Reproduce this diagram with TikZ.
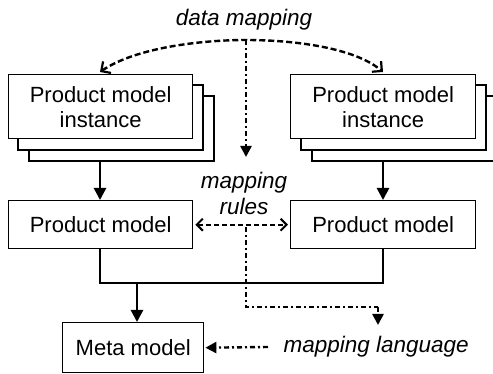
\documentclass[tikz,border=0pt]{standalone}
\usepackage{fontspec}
\setmainfont{Liberation Sans}
\usetikzlibrary{arrows.meta}
\tikzset{
  wideBarb/.tip={Straight Barb[length=7pt,width=14pt,line width=2.2pt]},
  ruleBarb/.tip={Straight Barb[length=6pt,width=12pt,line width=2pt]}}
\begin{document}
\begin{tikzpicture}[x=1pt,y=-1pt,
  box/.style={draw,line width=1.4pt,fill=white,inner sep=0pt},
  lbl/.style={font=\fontsize{22}{25}\selectfont},
  ilbl/.style={font=\fontsize{22.5}{26}\selectfont\itshape},
  flow/.style={line width=2.6pt,-{Triangle[length=12pt,width=12pt]}},
  dashdot/.style={line width=2.4pt,dash pattern=on 5pt off 3pt on 2pt off 3pt},
  dashflow/.style={dashdot,-{Triangle[length=11pt,width=11pt]}}]
\useasboundingbox (0,0) rectangle (493,374);
\clip (0,0) rectangle (493,374);

% stacked instance boxes, left
\draw[box] (29,96) rectangle (214,161);
\draw[box] (18,85) rectangle (203,150);
\node[box,minimum width=184pt,minimum height=64pt,anchor=north west,
      align=center,lbl] (instL) at (8,74) {Product model\\instance};
\coordinate (instLb) at (100,161);

% stacked instance boxes, right
\draw[box] (312,96) rectangle (497,161);
\draw[box] (301,85) rectangle (486,150);
\node[box,minimum width=185pt,minimum height=64pt,anchor=north west,
      align=center,lbl] (instR) at (290,74) {Product model\\instance};
\coordinate (instRb) at (383,161);

% product models
\node[box,minimum width=184pt,minimum height=48pt,anchor=north west,lbl]
  (pmL) at (8,200) {Product model};
\node[box,minimum width=185pt,minimum height=48pt,anchor=north west,lbl]
  (pmR) at (290,200) {Product model};

% meta model
\node[box,minimum width=141pt,minimum height=50pt,anchor=north west,lbl]
  (meta) at (62,322) {Meta model};

% labels
\node[ilbl] (dm) at (244,20) {data mapping};
\node[ilbl,align=center] (mr) at (244,193) {mapping\\rules};
\node[ilbl,anchor=west] (ml) at (280,347) {mapping language};
\coordinate (mlOut) at (268,347);

% solid flows
\draw[flow] (instLb) -- (100,200);
\draw[flow] (instRb) -- (383,200);
\coordinate (joinL) at (100,283);
\coordinate (joinR) at (383,283);
\draw[line width=2.6pt] (100,248) -- (joinL) -- (joinR) -- (383,248);
\coordinate (metaIn) at (137,283);
\draw[flow] (metaIn) -- (137,322);

% data mapping curve
\coordinate (top) at (246,40);
\draw[line width=2.4pt,dash pattern=on 6pt off 3pt,{wideBarb}-{wideBarb}]
  (100,72) .. controls (135,48) and (200,40) .. (top)
  .. controls (295,40) and (355,48) .. (383,72);

% mapping rules arrow
\draw[line width=2pt,dash pattern=on 5pt off 3pt,{ruleBarb}-{ruleBarb}]
  ([xshift=2pt]pmL.east) -- ([xshift=-2pt]pmR.west);

% dash-dotted derivations
\draw[dashflow] (top) -- (246,157);
\coordinate (ruleOut) at (246,227);
\draw[dashdot] (ruleOut) -- (246,307) -- (378,307);
\draw[dashflow] (378,307) -- (378,325);
\draw[dashflow] (mlOut) -- ([xshift=1pt]meta.east);
\end{tikzpicture}
\end{document}
